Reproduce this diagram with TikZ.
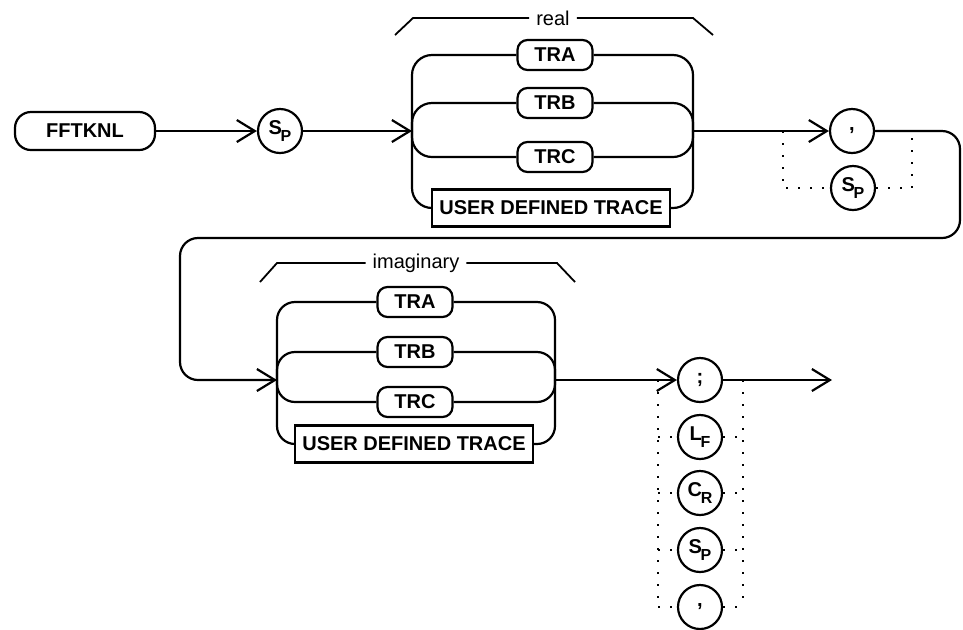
\documentclass[tikz,border=0pt]{standalone}
\usepackage{fontspec}
\setmainfont{Liberation Sans}
\usetikzlibrary{arrows.meta}
\newcommand{\subkey}[2]{#1\kern-0.6pt\raisebox{-0.6ex}{\footnotesize #2}}

\begin{document}
\begin{tikzpicture}[x=0.5pt, y=-0.5pt, line width=1.1pt,
    >={Straight Barb[length=9pt, width=11pt]},
    keybox/.style={draw, rounded corners=5pt, minimum width=37.5pt, minimum height=15pt, inner sep=0pt, font=\bfseries},
    userbox/.style={draw, minimum width=119pt, minimum height=18.5pt, inner sep=0pt, font=\bfseries},
    optcircle/.style={draw, circle, minimum size=22pt, inner sep=0pt, font=\bfseries},
    optline/.style={line width=1pt, dash pattern=on 1pt off 5pt},
    bracketlabel/.style={fill=white, inner sep=3pt, font=\normalsize}]
    \useasboundingbox (0,0) rectangle (963,629);
    % Kopfzeile
    \node[draw, rounded corners=8pt, minimum width=70pt, minimum height=19pt, font=\bfseries] (fft) at (85,131) {FFTKNL};
    \node[optcircle] (sp1) at (280,131) {\subkey{S}{P}};
    \coordinate (rin) at (412,131);
    \coordinate (rout) at (693,131);
    \draw[->] (fft) -- (sp1);
    \draw[->] (sp1) -- (rin);
    % real
    \node[keybox] (ra) at (555,55) {TRA};
    \node[keybox] (rb) at (555,103) {TRB};
    \node[keybox] (rc) at (555,157) {TRC};
    \node[userbox] (ru) at (551,208) {USER DEFINED TRACE};
    \foreach \b in {ra,rb,rc,ru} {
      \draw[rounded corners=10pt] (rin) |- (\b.west);
      \draw[rounded corners=10pt] (\b.east) -| (rout);
    }
    \node[bracketlabel] (realtxt) at (553,18) {real};
    \draw[line width=0.9pt] (395,35) -- (413,18) -- (realtxt.west);
    \draw[line width=0.9pt] (realtxt.east) -- (693,18) -- (713,35);
    % Trennzeichen
    \node[optcircle] (sep1) at (852,131) {,};
    \node[optcircle] (sp2) at (853,188) {\subkey{S}{P}};
    \draw[->] (rout) -- (sep1);
    \draw[optline] (783,131) |- (sp2);
    \draw[optline] (sp2) -| (912,131);
    % Ruecklauf
    \coordinate (iin) at (277,380);
    \coordinate (iout) at (555,380);
    \draw[->, rounded corners=9pt] (sep1) -- (960,131) -- (960,238) -- (180,238) -- (180,380) -- (iin);
    % imaginary
    \node[keybox] (ia) at (415,302) {TRA};
    \node[keybox] (ib) at (415,352) {TRB};
    \node[keybox] (ic) at (415,402) {TRC};
    \node[userbox] (iu) at (414,444) {USER DEFINED TRACE};
    \foreach \b in {ia,ib,ic,iu} {
      \draw[rounded corners=9pt] (iin) |- (\b.west);
      \draw[rounded corners=9pt] (\b.east) -| (iout);
    }
    \node[bracketlabel] (imtxt) at (416,263) {imaginary};
    \draw[line width=0.9pt] (260,282) -- (277,263) -- (imtxt.west);
    \draw[line width=0.9pt] (imtxt.east) -- (557,263) -- (575,282);
    % Abschluss
    \node[optcircle] (semi) at (700,380) {;};
    \node[optcircle] (lf) at (700,437) {\subkey{L}{F}};
    \node[optcircle] (cr) at (700,493) {\subkey{C}{R}};
    \node[optcircle] (sp3) at (700,550) {\subkey{S}{P}};
    \node[optcircle] (comma) at (700,607) {,};
    \coordinate (fin) at (832,380);
    \draw[->] (iout) -- (semi);
    \draw[->] (semi) -- (fin);
    \draw[optline] (658,380) -- (658,607);
    \draw[optline] (743,380) -- (743,607);
    \foreach \c in {lf,cr,sp3,comma} {
      \draw[optline] (658,0 |- \c) -- (\c.west);
      \draw[optline] (\c.east) -- (743,0 |- \c);
    }
\end{tikzpicture}
\end{document}
